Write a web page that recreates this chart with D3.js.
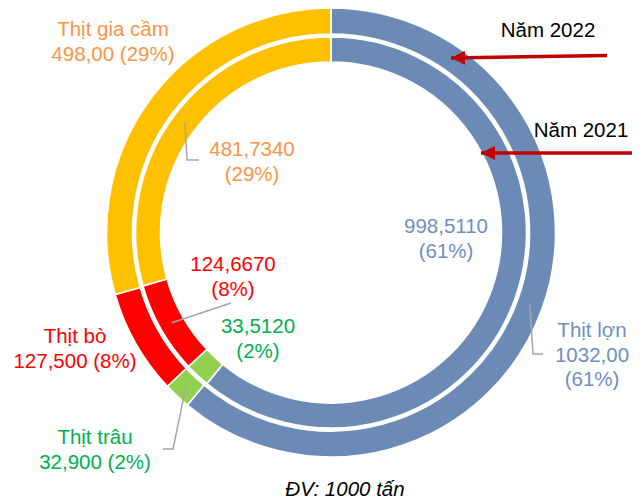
<!DOCTYPE html>
<html>
<head>
<meta charset="utf-8">
<script src="https://cdn.jsdelivr.net/npm/d3@7"></script>
<style>
  body { margin: 0; background: #fff; }
  svg { display: block; font-family: "Liberation Sans", Arial, sans-serif; }
</style>
</head>
<body>
<div id="chart"></div>
<script>
const categories = ["Thịt lợn", "Thịt trâu", "Thịt bò", "Thịt gia cầm"]
const values2022 = [1032.00, 32.900, 127.500, 498.00]
const values2021 = [998.5110, 33.5120, 124.6670, 481.7340]
const valueText2022 = ["1032,00", "32,900", "127,500", "498,00"]
const valueText2021 = ["998,5110", "33,5120", "124,6670", "481,7340"]
const years = ["Năm 2022", "Năm 2021"]
const unitNote = "ĐV: 1000 tấn"

const WIDTH = 643
const HEIGHT = 503
const CX = 331
const CY = 232.5
const LINE_H = 24.5

const ringColor = d3.scaleOrdinal().domain(categories)
  .range(["#6B8AB5", "#92D050", "#FF0000", "#FFC000"])
const textColor = d3.scaleOrdinal().domain(categories)
  .range(["#6F8FC0", "#00B050", "#FF0000", "#F79646"])

// label layout: x center, first baseline, optional leader bend points
const outerLayout = [
  { x: 592, y: 337, lines: (c, v, p) => [c, v, p], leader: [[533, 354], [543, 354]] },
  { x: 95, y: 444, lines: (c, v, p) => [c, v + " " + p], leader: [[173, 449], [163, 449]] },
  { x: 75, y: 343, lines: (c, v, p) => [c, v + " " + p], leader: null },
  { x: 113, y: 36, lines: (c, v, p) => [c, v + " " + p], leader: null }
]
const innerLayout = [
  { x: 446, y: 233, leader: null },
  { x: 258, y: 333, leader: null },
  { x: 233, y: 271, leader: [[231, 303]] },
  { x: 252, y: 156, leader: [[187, 160], [199, 160]] }
]

const svg = d3.select("#chart").append("svg")
  .attr("width", WIDTH)
  .attr("height", HEIGHT)

const g = svg.append("g").attr("transform", `translate(${CX}, ${CY})`)

const pie = d3.pie().sort(null).value(d => d.value)
const pct = d3.format(".0%")

function ring(values, texts, inner, outer, layout, isOuter) {
  const data = values.map((v, i) => ({ cat: categories[i], value: v, text: texts[i] }))
  const total = d3.sum(values)
  const arcs = pie(data)
  const arc = d3.arc().innerRadius(inner).outerRadius(outer)

  g.selectAll(null)
    .data(arcs)
    .enter().append("path")
      .attr("d", arc)
      .attr("fill", d => ringColor(d.data.cat))
      .attr("stroke", "#fff")
      .attr("stroke-width", 1.6)

  // leader lines
  arcs.forEach((d, i) => {
    const lay = layout[i]
    if (!lay.leader) return
    const c = arc.centroid(d)
    const pts = [[c[0] + CX, c[1] + CY]].concat(lay.leader)
    svg.append("path")
      .attr("d", d3.line()(pts))
      .attr("fill", "none")
      .attr("stroke", "#A6A6A6")
      .attr("stroke-width", 1.5)
  })

  arcs.forEach((d, i) => {
    const lay = layout[i]
    const p = "(" + pct(d.data.value / total) + ")"
    const lines = isOuter ? lay.lines(d.data.cat, d.data.text, p) : [d.data.text, p]
    const t = svg.append("text")
      .attr("text-anchor", "middle")
      .attr("font-size", "20.5px")
      .attr("fill", textColor(d.data.cat))
    lines.forEach((s, j) => {
      t.append("tspan").attr("x", lay.x).attr("y", lay.y + j * LINE_H).text(s)
    })
  })
}

ring(values2022, valueText2022, 198.5, 224.5, outerLayout, true)
ring(values2021, valueText2021, 170.5, 195.5, innerLayout, false)

// year arrows
const defs = svg.append("defs")
defs.append("marker")
  .attr("id", "head")
  .attr("viewBox", "0 0 10 10")
  .attr("refX", 10).attr("refY", 5)
  .attr("markerWidth", 4.2).attr("markerHeight", 4)
  .attr("markerUnits", "strokeWidth")
  .attr("orient", "auto")
  .append("path").attr("d", "M0,0 L10,5 L0,10 Z").attr("fill", "#C00000")

const arrows = [
  { text: years[0], tx: 548, ty: 37, from: [607, 55.5], to: [451, 58] },
  { text: years[1], tx: 581, ty: 137, from: [632, 153], to: [481, 153] }
]
arrows.forEach(a => {
  svg.append("text")
    .attr("x", a.tx).attr("y", a.ty)
    .attr("text-anchor", "middle")
    .attr("font-size", "20.5px")
    .attr("fill", "#000")
    .text(a.text)
  svg.append("line")
    .attr("x1", a.from[0]).attr("y1", a.from[1])
    .attr("x2", a.to[0]).attr("y2", a.to[1])
    .attr("stroke", "#C00000")
    .attr("stroke-width", 3.5)
    .attr("marker-end", "url(#head)")
})

svg.append("text")
  .attr("x", 345).attr("y", 496)
  .attr("text-anchor", "middle")
  .attr("font-size", "20.5px")
  .attr("font-style", "italic")
  .attr("fill", "#000")
  .text(unitNote)
</script>
</body>
</html>
